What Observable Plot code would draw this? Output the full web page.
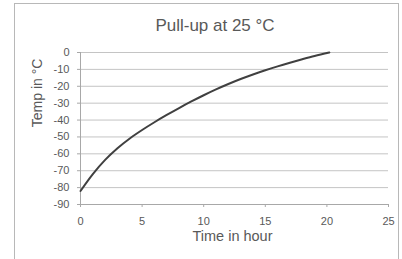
<!DOCTYPE html>
<html><head><meta charset="utf-8">
<script src="https://cdn.jsdelivr.net/npm/d3@7"></script>
<script src="https://cdn.jsdelivr.net/npm/@observablehq/plot@0.6"></script>
<style>
body{margin:0;background:#fff;}
#wrap{position:relative;width:402px;height:259px;overflow:hidden;font-family:Arial,"Liberation Sans",sans-serif;}
#border{position:absolute;left:14px;top:3px;width:385px;height:300px;border:1px solid #b8b8b8;box-sizing:border-box;}
#title{position:absolute;left:115px;width:200px;top:17px;line-height:17px;text-align:center;font-size:17px;color:#595959;white-space:nowrap;}
#chart{position:absolute;left:0;top:0;}
</style>
</head><body>
<div id="wrap"><div id="border"></div><div id="title"></div><div id="chart"></div></div>
<script>
const titleText = "Pull-up at 25 °C";
const xLabel = "Time in hour";
const yLabel = "Temp in °C";
const hours = [0,1,2,3,4,5,6,7,8,9,10,11,12,13,14,15,16,17,18,19,20.2];
const temps = [-82,-72,-63.6,-56.7,-50.9,-45.9,-41.3,-37,-32.9,-29,-25.3,-21.85,-18.65,-15.7,-13,-10.5,-8.2,-6.05,-4,-2.05,0];
const xTicks = [0,5,10,15,20,25];
const yTicks = [0,-10,-20,-30,-40,-50,-60,-70,-80,-90];

document.getElementById("title").textContent = titleText;
const data = hours.map((h,i)=>({h, t: temps[i]}));
const fmt = d => String(d);
const chart = Plot.plot({
  width:402, height:259,
  marginTop:52, marginBottom:55, marginLeft:80, marginRight:14,
  style:{fontFamily:"Arial, 'Liberation Sans', sans-serif", fontSize:"11px", color:"#595959", background:"transparent"},
  x:{domain:[0,25]},
  y:{domain:[-90,0]},
  marks:[
    Plot.gridY(yTicks.filter(v=>v>-90), {stroke:"#c4c4c4", strokeOpacity:1}),
    Plot.ruleY([-90], {stroke:"#a8a8a8"}),
    Plot.ruleX([0], {y1:-90, y2:0, stroke:"#a8a8a8"}),
    Plot.axisX({ticks:xTicks, tickSize:3, tickPadding:10, tickFormat:fmt, label:null, stroke:"#a8a8a8", fill:"#595959"}),
    Plot.axisY({ticks:yTicks, tickSize:3, tickPadding:8, tickFormat:fmt, label:null, stroke:"#a8a8a8", fill:"#595959"}),
    Plot.text([xLabel], {text:d=>d, frameAnchor:"bottom", dx:-2, dy:36.5, fontSize:14.5, fill:"#595959"}),
    Plot.text([yLabel], {text:d=>d, frameAnchor:"left", rotate:-90, dx:-42.5, dy:-1.3, fontSize:14, fill:"#595959"}),
    Plot.line(data, {x:"h", y:"t", stroke:"#404040", strokeWidth:2, curve:"monotone-x"})
  ]
});
document.getElementById("chart").appendChild(chart);
</script>
</body></html>
